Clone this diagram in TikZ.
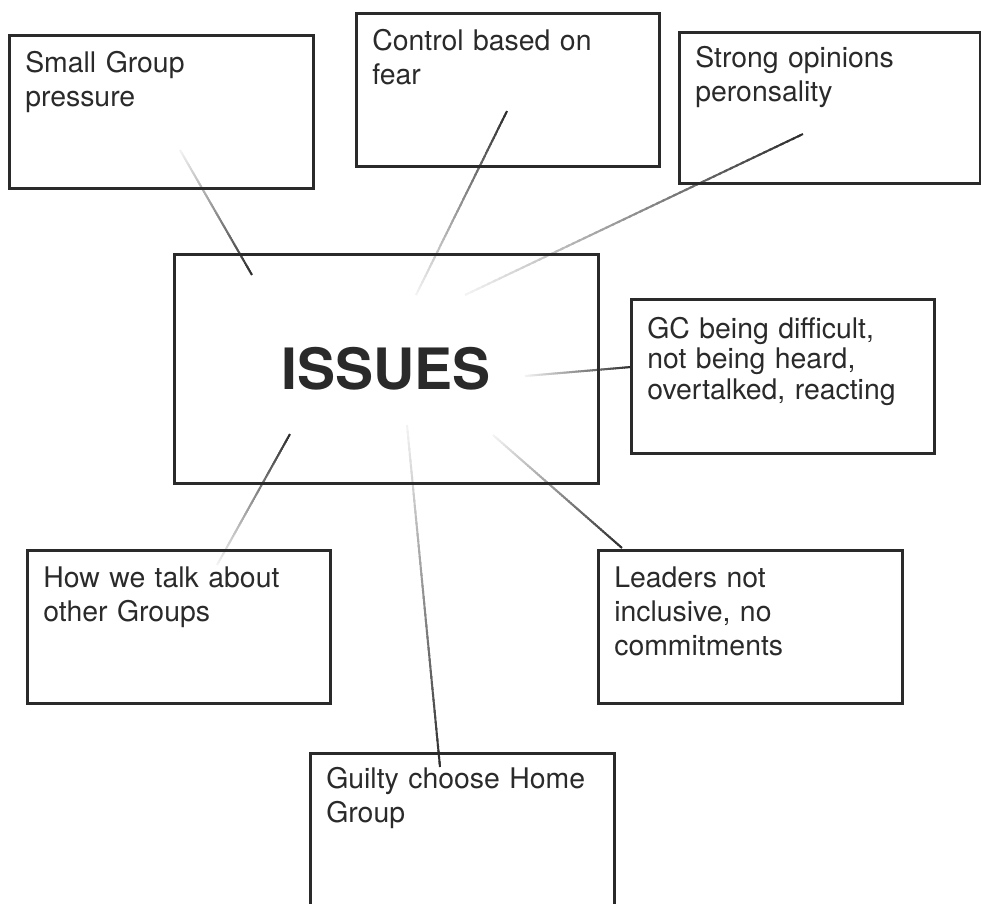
\documentclass[tikz,border=0pt]{standalone}
\usepackage{fontspec}
\setmainfont{TeX Gyre Heros}
\usetikzlibrary{calc}
\definecolor{ink}{HTML}{2A2A2A}
\definecolor{lnk}{HTML}{2E2E2E}
\tikzset{
  idea/.style={draw=ink, line width=2.6pt, rectangle, anchor=north west,
    inner xsep=16pt, inner ysep=0pt, text width=#1, align=left, text=ink,
    font=\fontsize{28.4}{34}\selectfont, text height=37pt, text depth=116pt},
  hub/.style={draw=ink, line width=2.6pt, rectangle, anchor=north west,
    inner sep=0pt, minimum width=424pt, minimum height=229pt, text=ink,
    font=\fontsize{57}{60}\selectfont\bfseries},
  fadeseg/.style={line width=2pt, line cap=butt}
}
\newcommand{\fadeline}[2]{%
  \foreach \i in {0,...,59}{%
    \pgfmathsetmacro{\ta}{\i/60}%
    \pgfmathsetmacro{\tb}{min(1,(\i+1.5)/60)}%
    \pgfmathsetmacro{\pc}{6+94*\i/59}%
    \draw[fadeseg, draw=lnk!\pc!white] ($(#1)!\ta!(#2)$) -- ($(#1)!\tb!(#2)$);
  }}
\begin{document}
\begin{tikzpicture}[x=1pt, y=-1pt]
\useasboundingbox (0,0) rectangle (981,903);
% connector ends (light end, dark end)
\coordinate (sgL) at (180,150);  \coordinate (sgD) at (252,275);
\coordinate (ctL) at (416,295);  \coordinate (ctD) at (507,111);
\coordinate (stL) at (465,295);  \coordinate (stD) at (803,134);
\coordinate (gcL) at (525,376);  \coordinate (gcD) at (631,367);
\coordinate (hwL) at (217,565);  \coordinate (hwD) at (290,434);
\coordinate (guL) at (407,425);  \coordinate (guD) at (440,767);
\coordinate (ldL) at (493,435);  \coordinate (ldD) at (622,548);
\fadeline{sgL}{sgD}
\fadeline{ctL}{ctD}
\fadeline{stL}{stD}
\fadeline{gcL}{gcD}
\fadeline{hwL}{hwD}
\fadeline{guL}{guD}
\fadeline{ldL}{ldD}
% boxes
\node[idea=272pt] (sg) at (8,34) {Small Group\\pressure};
\node[idea=271pt] (ct) at (355,12) {Control based on\\fear};
\node[idea=269pt, text height=35pt, text depth=116pt] (st) at (678,31) {Strong opinions\\peronsality};
\node[hub] (iss) at (173,253) {ISSUES};
\node[idea=271pt, font=\fontsize{28.4}{30.5}\selectfont, text height=39pt, text depth=115pt] (gc) at (630,298) {GC being difficult,\\not being heard,\\overtalked, reacting};
\node[idea=271pt] (hw) at (26,549) {How we talk about\\other Groups};
\node[idea=272pt] (ld) at (597,549) {Leaders not\\inclusive, no\\commitments};
\node[idea=272pt, text height=35pt, text depth=118pt] (gu) at (309,752) {Guilty choose Home\\Group};
\end{tikzpicture}
\end{document}
